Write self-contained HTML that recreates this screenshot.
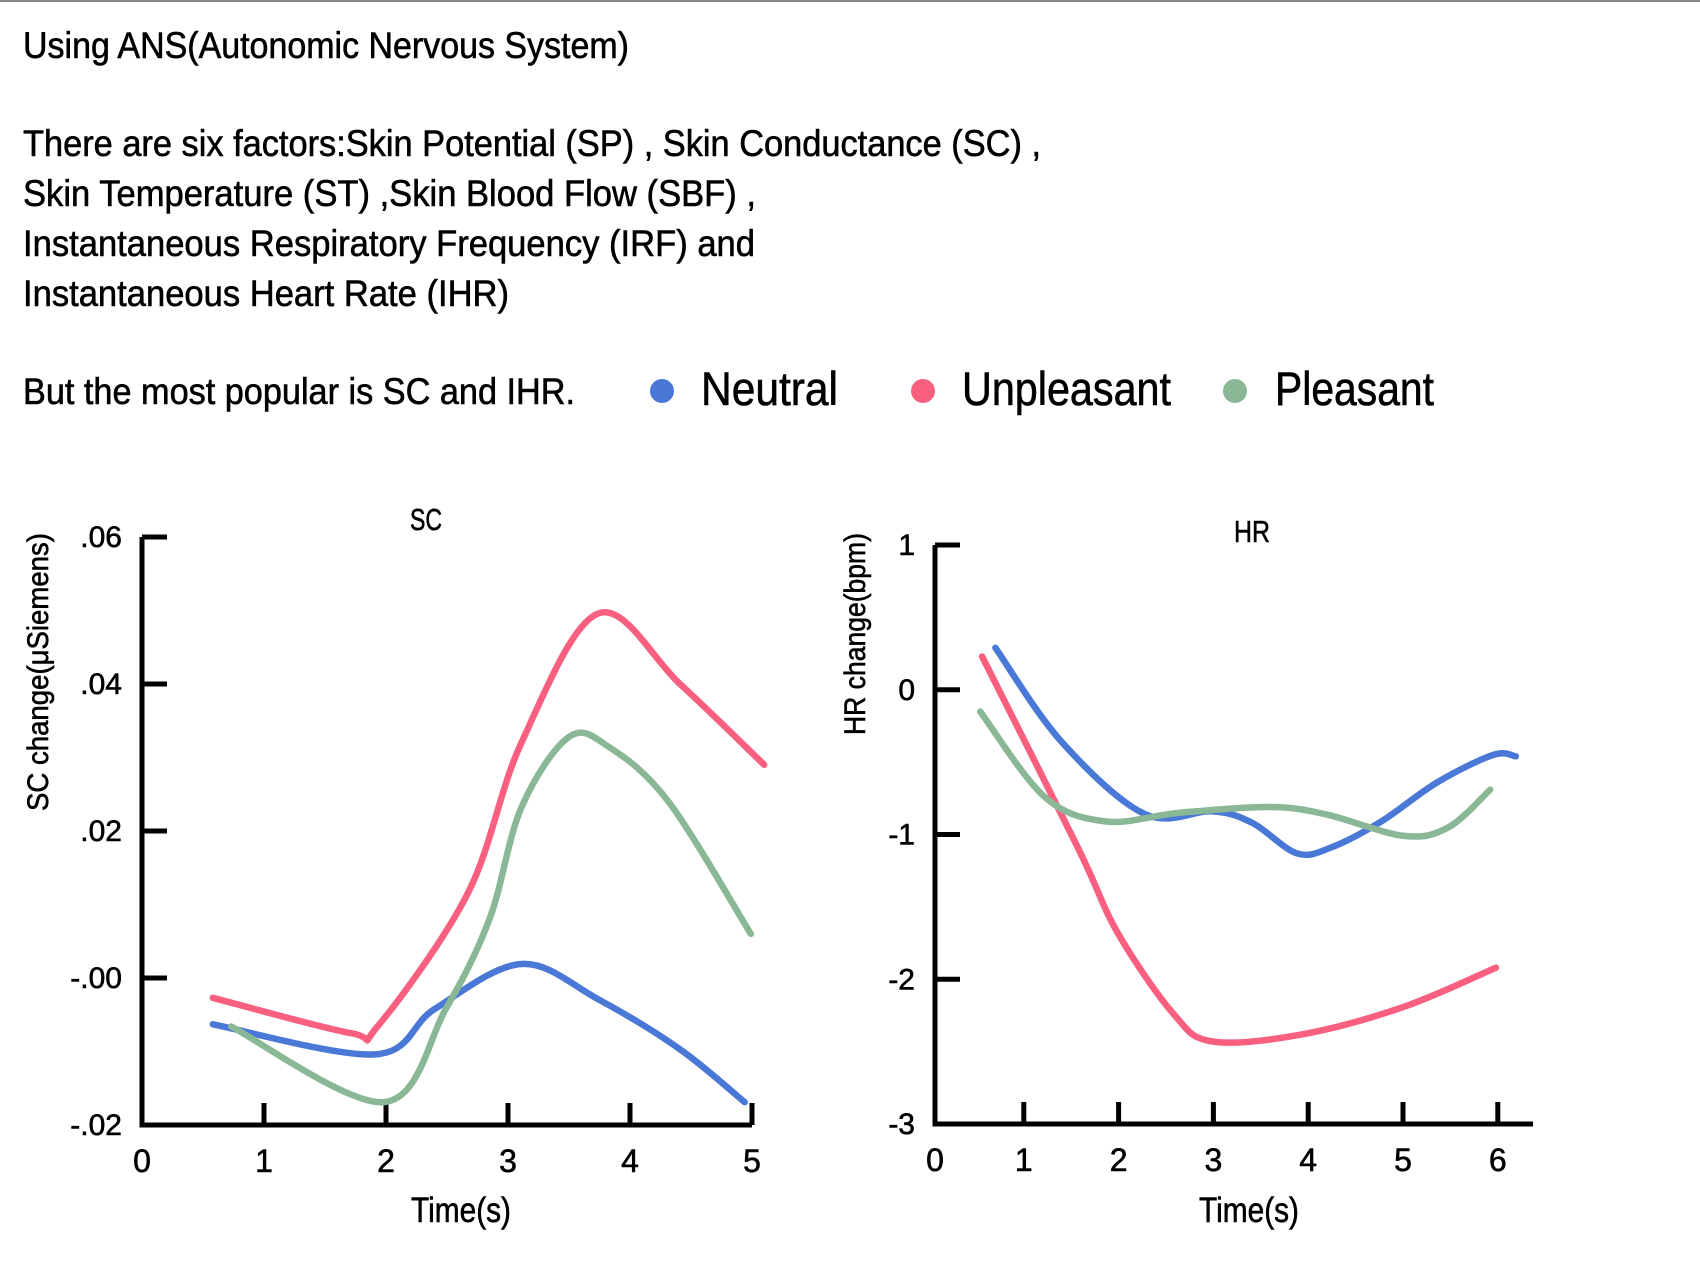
<!DOCTYPE html>
<html><head><meta charset="utf-8"><style>
html,body{margin:0;padding:0;background:#fff;width:1700px;height:1270px;overflow:hidden}
svg{display:block}
text{font-family:"Liberation Sans Narrow","Liberation Sans",sans-serif;fill:#000}
</style></head><body>
<svg id="s" width="1700" height="1270" viewBox="0 0 1700 1270">
<line x1="0" y1="1" x2="1700" y2="1" stroke="#888" stroke-width="2"/>
<g font-size="37" stroke="#000" stroke-width="0.6">
<text x="23" y="58" textLength="606" lengthAdjust="spacingAndGlyphs">Using ANS(Autonomic Nervous System)</text>
<text x="23" y="156" textLength="1018" lengthAdjust="spacingAndGlyphs">There are six factors:Skin Potential (SP) , Skin Conductance (SC) ,</text>
<text x="23" y="206" textLength="733" lengthAdjust="spacingAndGlyphs">Skin Temperature (ST) ,Skin Blood Flow (SBF) ,</text>
<text x="23" y="256" textLength="732" lengthAdjust="spacingAndGlyphs">Instantaneous Respiratory Frequency (IRF) and</text>
<text x="23" y="306" textLength="486" lengthAdjust="spacingAndGlyphs">Instantaneous Heart Rate (IHR)</text>
<text x="23" y="404" textLength="552" lengthAdjust="spacingAndGlyphs">But the most popular is SC and IHR.</text>
</g>
<g font-size="47" stroke="#000" stroke-width="0.6">
<g><circle cx="662" cy="391" r="12" fill="#4a78d6" stroke="none"/><text x="701" y="405" textLength="137" lengthAdjust="spacingAndGlyphs">Neutral</text></g>
<g><circle cx="923" cy="391" r="12" fill="#f95f7f" stroke="none"/><text x="962" y="405" textLength="209" lengthAdjust="spacingAndGlyphs">Unpleasant</text></g>
<g><circle cx="1235" cy="391" r="12" fill="#8ab896" stroke="none"/><text x="1275" y="405" textLength="159" lengthAdjust="spacingAndGlyphs">Pleasant</text></g>
</g>
<g id="sc"></g>
<g id="hr"></g>
</svg>
<script>
const colors = {neutral:"#4a78d6", unpleasant:"#f95f7f", pleasant:"#8ab896"};
const scXTicks = [0,1,2,3,4,5];
const scYTicks = [0.06,0.04,0.02,0,-0.02];
const scYLabels = [".06",".04",".02","-.00","-.02"];
const scNeutralX = [0.58,1.91,2.40,3.11,3.74,4.41,4.94];
const scNeutralY = [-0.0063,-0.0104,-0.0042,0.0019,-0.0029,-0.0097,-0.0169];
const scUnpleasantX = [0.58,1.71,1.93,2.67,3.11,3.74,4.41,5.10];
const scUnpleasantY = [-0.0027,-0.0075,-0.0066,0.0115,0.032,0.0496,0.040,0.029];
const scPleasantX = [0.73,1.98,2.49,2.85,3.11,3.50,3.83,4.32,4.99];
const scPleasantY = [-0.0066,-0.0169,-0.0042,0.0081,0.0232,0.0328,0.0314,0.0239,0.006];
const hrXTicks = [0,1,2,3,4,5,6];
const hrYTicks = [1,0,-1,-2,-3];
const hrYLabels = ["1","0","-1","-2","-3"];
const hrNeutralX = [0.70,1.40,2.28,2.99,3.41,3.88,4.24,4.77,5.36,5.95,6.19];
const hrNeutralY = [0.29,-0.36,-0.86,-0.84,-0.92,-1.13,-1.09,-0.91,-0.64,-0.45,-0.46];
const hrUnpleasantX = [0.56,1.57,1.99,2.58,2.99,3.94,5.01,5.98];
const hrUnpleasantY = [0.23,-1.09,-1.68,-2.24,-2.43,-2.38,-2.19,-1.92];
const hrPleasantX = [0.54,1.22,1.87,2.64,3.59,4.18,5.01,5.48,5.92];
const hrPleasantY = [-0.15,-0.74,-0.91,-0.85,-0.81,-0.86,-1.01,-0.95,-0.69];

const NS="http://www.w3.org/2000/svg";
function mk(tag,attrs,parent){const e=document.createElementNS(NS,tag);for(const k in attrs)e.setAttribute(k,attrs[k]);parent.appendChild(e);return e;}
function smooth(pts){let d="M"+pts[0][0]+","+pts[0][1];for(let i=0;i<pts.length-1;i++){const p0=pts[i-1]||pts[i],p1=pts[i],p2=pts[i+1],p3=pts[i+2]||p2;const c1=[p1[0]+(p2[0]-p0[0])/6,p1[1]+(p2[1]-p0[1])/6],c2=[p2[0]-(p3[0]-p1[0])/6,p2[1]-(p3[1]-p1[1])/6];d+=" C"+c1+" "+c2+" "+p2;}return d;}

function chart(g,cfg){
  const xs=v=>cfg.x0+(v-0)*cfg.xu;
  const ys=v=>cfg.yTop+(cfg.yMax-v)/(cfg.yMax-cfg.yMin)*(cfg.yBot-cfg.yTop);
  let e=mk("line",{x1:cfg.ax,y1:cfg.yTop,x2:cfg.ax,y2:cfg.yBot+2.5,stroke:"#000","stroke-width":5},g);
  
  
  e=mk("line",{x1:cfg.ax-2.5,y1:cfg.yBot,x2:cfg.axEnd,y2:cfg.yBot,stroke:"#000","stroke-width":5},g);
  
  
  cfg.yTicks.forEach((v,i)=>{
    const y=ys(v);
    let t=mk("line",{x1:cfg.ax,y1:y,x2:cfg.ax+25,y2:y,stroke:"#000","stroke-width":5},g);
    
    
    let l=mk("text",{x:cfg.ax-20,y:y+10,"text-anchor":"end","font-size":30,stroke:"#000","stroke-width":0.6},g);l.textContent=cfg.yLabels[i];
    
    
  });
  cfg.xTicks.forEach(v=>{
    const x=v===0?cfg.ax:xs(v);
    if(v!==0){let t=mk("line",{x1:x,y1:cfg.yBot,x2:x,y2:cfg.yBot-22,stroke:"#000","stroke-width":5},g);
    
    }
    let l=mk("text",{x:x,y:cfg.yBot+47,"text-anchor":"middle","font-size":32,stroke:"#000","stroke-width":0.6},g);l.textContent=String(v);
    
    
  });
  cfg.series.forEach(s=>{
    const pts=s.x.map((v,i)=>[xs(v).toFixed(1)*1,ys(s.y[i]).toFixed(1)*1]);
    let p=mk("path",{d:smooth(pts),fill:"none",stroke:s.c,"stroke-width":6.5,"stroke-linecap":"round"},g);
    
    
  });
  let t=mk("text",{x:cfg.tx,y:cfg.ty,"text-anchor":"middle","font-size":31,stroke:"#000","stroke-width":0.6,textLength:cfg.tl,lengthAdjust:"spacingAndGlyphs"},g);t.textContent=cfg.title;
  
  
  t=mk("text",{x:cfg.xlx,y:1222,"text-anchor":"middle","font-size":35,stroke:"#000","stroke-width":0.6,textLength:100,lengthAdjust:"spacingAndGlyphs"},g);t.textContent="Time(s)";
  
  
  t=mk("text",{x:0,y:0,"text-anchor":"middle","font-size":30,stroke:"#000","stroke-width":0.6,textLength:cfg.ylen,lengthAdjust:"spacingAndGlyphs",transform:"translate("+cfg.ylx+","+cfg.yly+") rotate(-90)"},g);t.textContent=cfg.ylab;
  
  
}
chart(document.getElementById("sc"),{x0:142,xu:122,ax:142,axEnd:752,yTop:537,yBot:1125,yMax:0.06,yMin:-0.02,
  xTicks:scXTicks,yTicks:scYTicks,yLabels:scYLabels,title:"SC",tl:32,tx:426,ty:530,xlx:461,ylab:"SC change(μSiemens)",ylen:278,ylx:48,yly:672,
  series:[{x:scNeutralX,y:scNeutralY,c:colors.neutral,n:"sc-neutral-line"},{x:scUnpleasantX,y:scUnpleasantY,c:colors.unpleasant,n:"sc-unpleasant-line"},{x:scPleasantX,y:scPleasantY,c:colors.pleasant,n:"sc-pleasant-line"}]});
chart(document.getElementById("hr"),{x0:929,xu:94.8,ax:935,axEnd:1533,yTop:545,yBot:1124,yMax:1,yMin:-3,
  xTicks:hrXTicks,yTicks:hrYTicks,yLabels:hrYLabels,title:"HR",tl:36,tx:1252,ty:542,xlx:1249,ylab:"HR change(bpm)",ylen:202,ylx:865,yly:634,
  series:[{x:hrNeutralX,y:hrNeutralY,c:colors.neutral,n:"hr-neutral-line"},{x:hrUnpleasantX,y:hrUnpleasantY,c:colors.unpleasant,n:"hr-unpleasant-line"},{x:hrPleasantX,y:hrPleasantY,c:colors.pleasant,n:"hr-pleasant-line"}]});
</script>
</body></html>
